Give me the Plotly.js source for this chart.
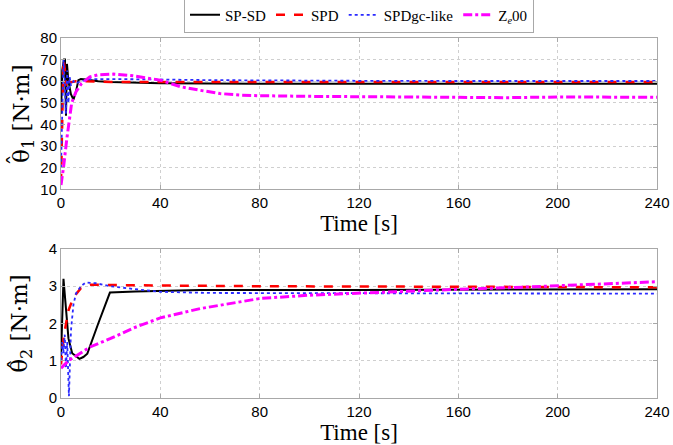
<!DOCTYPE html>
<html><head><meta charset="utf-8">
<script src="https://cdn.plot.ly/plotly-3.0.1.min.js"></script>
<style>html,body{margin:0;padding:0;background:#fff}#chart{width:673px;height:445px}</style>
</head><body><div id="chart"></div>
<script>
// Series names
const seriesNames = ["SP-SD", "SPD", "SPDgc-like", "Z<sub><i>e</i></sub>00"];

// Top panel: theta1 estimates
const t1_spsd = [0, 0.5, 1.2, 1.6, 2.0, 2.4, 3.0, 4.0, 5.0, 6.0, 7.0, 8.0, 10, 15, 20, 30, 40, 60, 70, 80, 120, 160, 200, 240];
const th1_spsd = [45, 65, 70, 70, 44, 68, 60, 54, 51.5, 55, 60.5, 61, 60.8, 60, 59.7, 59.3, 59.1, 59.0, 58.8, 58.8, 58.8, 58.8, 58.8, 58.8];
const t1_spd = [0, 0.5, 1, 1.5, 2, 2.5, 3, 4, 6, 10, 20, 40, 80, 120, 160, 200, 240];
const th1_spd = [13, 45, 70, 66, 58, 62, 60, 59.5, 60, 60, 59.7, 59.6, 59.6, 59.6, 59.6, 59.6, 59.6];
const t1_gc = [0, 0.5, 1, 1.5, 2, 2.5, 3, 3.5, 4, 5, 6, 8, 12, 20, 30, 40, 60, 80, 120, 160, 200, 240];
const th1_gc = [20, 55, 70, 60, 45, 65, 50, 62, 58, 60, 59, 60, 61, 61, 61, 60.8, 60.5, 60.3, 60.2, 60.1, 60.1, 60.1];
const t1_ze = [0, 1, 2.3, 4.3, 6, 8.3, 11.6, 15, 21, 29, 40, 48, 56, 64, 72, 80, 100, 120, 160, 180, 200, 240];
const th1_ze = [12, 20, 33, 50, 55, 59, 62, 63, 63.3, 62.5, 60.5, 57.5, 55.8, 54.3, 53.6, 53.3, 53, 52.8, 52.5, 52.4, 52.7, 52.6];

// Bottom panel: theta2 estimates
const t2_spsd = [0, 1, 2, 3, 4.5, 7.4, 9, 10.6, 15, 19.7, 30, 56, 120, 240];
const th2_spsd = [1.1, 3.2, 2.4, 1.6, 1.2, 1.05, 1.1, 1.19, 2.0, 2.83, 2.86, 2.9, 2.9, 2.92];
const t2_spd = [0, 1, 2.3, 3, 5, 8, 12, 20, 40, 80, 120, 160, 200, 240];
const th2_spd = [0.9, 1.6, 2.1, 2.35, 2.7, 2.95, 3.04, 3.03, 3.02, 3.0, 3.0, 2.99, 2.98, 2.97];
const t2_gc = [0, 0.5, 1, 1.5, 2, 2.5, 3.2, 4, 5, 6, 8, 10, 14, 20, 30, 40, 60, 120, 200, 240];
const th2_gc = [1.0, 1.5, 1.2, 1.7, 0.8, 1.5, 0.05, 1.8, 2.5, 2.8, 3.0, 3.1, 3.08, 3.0, 2.92, 2.85, 2.82, 2.81, 2.8, 2.8];
const t2_ze = [0, 3, 11.7, 20, 30, 40, 56, 80, 100, 120, 160, 180, 200, 220, 240];
const th2_ze = [0.8, 1.0, 1.37, 1.6, 1.9, 2.15, 2.4, 2.67, 2.76, 2.82, 2.92, 2.96, 3.01, 3.07, 3.12];

// Tick values
const xTicks = [0, 40, 80, 120, 160, 200, 240];
const y1Ticks = [10, 20, 30, 40, 50, 60, 70, 80];
const y2Ticks = [0, 1, 2, 3, 4];

const lineStyles = [
  {color: "#000000", width: 2, dash: "solid"},
  {color: "#ff0000", width: 2.5, dash: "dash"},
  {color: "#2a2aff", width: 1.8, dash: "dot"},
  {color: "#ff00ff", width: 3, dash: "dashdot"}
];

const panelTop = [[t1_spsd, th1_spsd], [t1_spd, th1_spd], [t1_gc, th1_gc], [t1_ze, th1_ze]];
const panelBot = [[t2_spsd, th2_spsd], [t2_spd, th2_spd], [t2_gc, th2_gc], [t2_ze, th2_ze]];

const traces = [];
panelTop.forEach((d, i) => traces.push({x: d[0], y: d[1], mode: "lines", name: seriesNames[i],
  line: lineStyles[i], xaxis: "x", yaxis: "y", showlegend: true}));
panelBot.forEach((d, i) => traces.push({x: d[0], y: d[1], mode: "lines", name: seriesNames[i],
  line: lineStyles[i], xaxis: "x2", yaxis: "y2", showlegend: false}));

const serif = "Liberation Serif, DejaVu Serif, serif";
const ySerif = "DejaVu Serif, Liberation Serif, serif";
const sans = "Liberation Sans, Arial, sans-serif";
const axisCommon = {
  showline: true, mirror: "all", linecolor: "#a8a8a8", linewidth: 1,
  ticks: "inside", ticklen: 4, tickcolor: "#a8a8a8",
  showgrid: true, gridcolor: "#cfcfcf", griddash: "dot", gridwidth: 1,
  zeroline: false, automargin: false, tickfont: {family: sans, size: 15, color: "#000"}
};

// hat accents over the theta of each y-axis title (title is rotated, so hat sits to its left)
const hatFont = {family: ySerif, size: 22, color: "#000"};
const annotations = [
  {xref: "paper", yref: "paper", x: -0.074, y: 0.662, text: "\u02C6", showarrow: false,
   textangle: -90, font: hatFont, xanchor: "center", yanchor: "middle"},
  {xref: "paper", yref: "paper", x: -0.074, y: 0.094, text: "\u02C6", showarrow: false,
   textangle: -90, font: hatFont, xanchor: "center", yanchor: "middle"}
];

const layout = {
  width: 673, height: 445,
  margin: {l: 61, r: 16, t: 38, b: 47, autoexpand: false},
  paper_bgcolor: "#fff", plot_bgcolor: "#fff",
  showlegend: true,
  annotations: annotations,
  legend: {orientation: "h", x: 0.5, xanchor: "center", y: 1.015, yanchor: "bottom",
    xref: "paper", yref: "paper",
    bordercolor: "#a8a8a8", borderwidth: 1, bgcolor: "#fff",
    font: {family: serif, size: 15, color: "#000"}, itemwidth: 30, tracegroupgap: 0},
  xaxis: Object.assign({}, axisCommon, {domain: [0, 1], range: [0, 240], tickvals: xTicks, anchor: "y",
    title: {text: "Time [s]", font: {family: serif, size: 23, color: "#000"}, standoff: 0}}),
  yaxis: Object.assign({}, axisCommon, {domain: [0.5797, 1], range: [10, 80], tickvals: y1Ticks, anchor: "x",
    title: {text: "θ<sub>1</sub> [N·m]", font: {family: ySerif, size: 23, color: "#000"}, standoff: 4}}),
  xaxis2: Object.assign({}, axisCommon, {domain: [0, 1], range: [0, 240], tickvals: xTicks, anchor: "y2",
    title: {text: "Time [s]", font: {family: serif, size: 23, color: "#000"}, standoff: 0}}),
  yaxis2: Object.assign({}, axisCommon, {domain: [0, 0.4139], range: [0, 4], tickvals: y2Ticks, anchor: "x2",
    title: {text: "θ<sub>2</sub> [N·m]", font: {family: ySerif, size: 23, color: "#000"}, standoff: 14}})
};

Plotly.newPlot("chart", traces, layout, {displayModeBar: false, staticPlot: true});
</script></body></html>
